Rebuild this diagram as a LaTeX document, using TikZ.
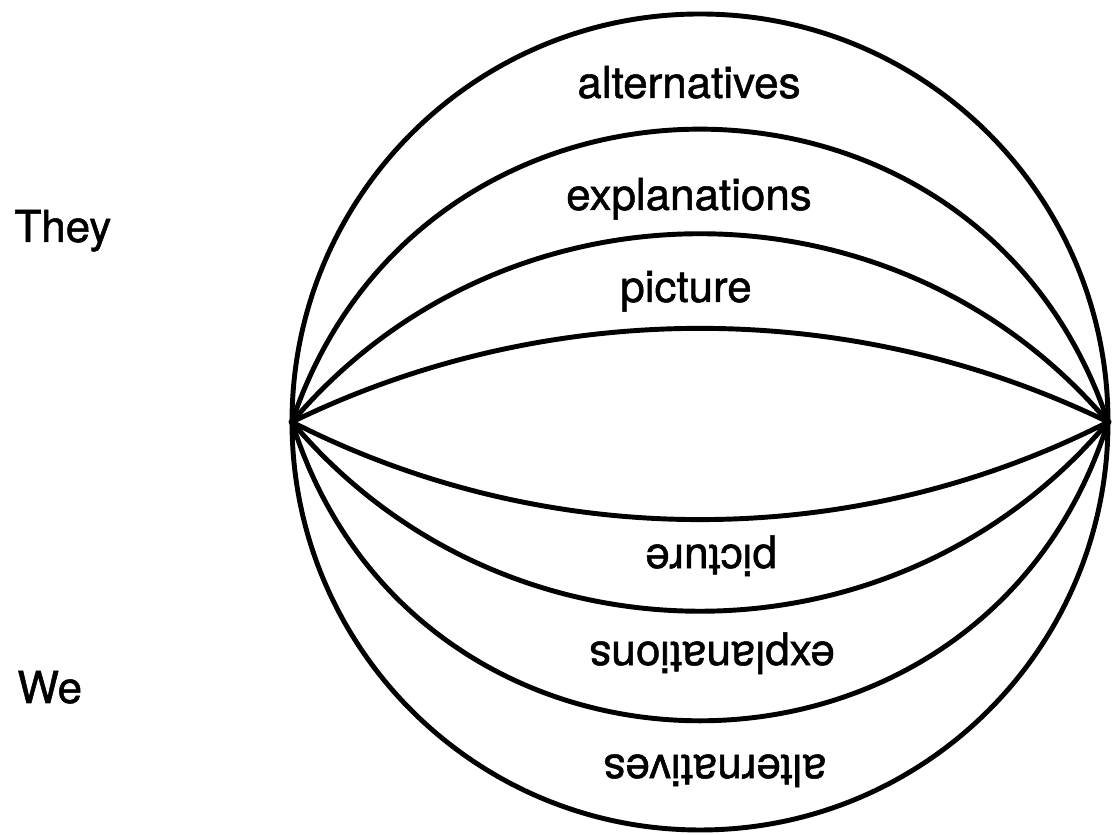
\documentclass[tikz,border=0pt]{standalone}
\usepackage{fontspec}
\setmainfont{TeX Gyre Heros}
\newfontfamily\wordfont{TeX Gyre Heros}[FakeBold=1.2]
\usepackage{tikz}

\begin{document}
\begin{tikzpicture}[line width = 1.4pt,
                    hub/.style = {circle, fill = black, inner sep = 0pt, minimum size = 0.07cm},
                    word/.style = {anchor = base, inner sep = 0pt, font = \wordfont\fontsize{12.5}{14}\selectfont}]
  \useasboundingbox (0, 0) rectangle (11.14, 8.35);
  \node [hub] (L) at (2.92, 4.13){};
  \node [hub] (R) at (11.08, 4.13){};
  \draw (7.00, 4.13) circle (4.08);
  % upper arcs
  \foreach \h in {0.94, 1.89, 2.94}{
    \pgfmathsetmacro\t{2*atan(\h/4.08)}
    \pgfmathsetmacro\l{(2/3)*(4.08*4.08 + \h*\h)/4.08/(0.3915*8.16)}
    \draw (L.center) to[out = \t, in = 180 - \t, looseness = \l] (R.center);
  }
  % lower arcs
  \foreach \h in {0.98, 1.90, 3.00}{
    \pgfmathsetmacro\t{2*atan(\h/4.08)}
    \pgfmathsetmacro\l{(2/3)*(4.08*4.08 + \h*\h)/4.08/(0.3915*8.16)}
    \draw (L.center) to[out = -\t, in = 180 + \t, looseness = \l] (R.center);
  }
  \node [word] (alt1) at (6.89, 7.37){alternatives};
  \node [word] (exp1) at (6.89, 6.25){explanations};
  \node [word] (pic1) at (6.86, 5.33){picture};
  \node [word, rotate = 180] (pic2) at (7.11, 2.90){picture};
  \node [word, rotate = 180] (exp2) at (7.12, 1.93){explanations};
  \node [word, rotate = 180] (alt2) at (7.15, 0.80){alternatives};
  \node [word, anchor = base west] (they) at (0.12, 5.93){They};
  \node [word, anchor = base west] (we) at (0.15, 1.32){We};
\end{tikzpicture}
\end{document}
